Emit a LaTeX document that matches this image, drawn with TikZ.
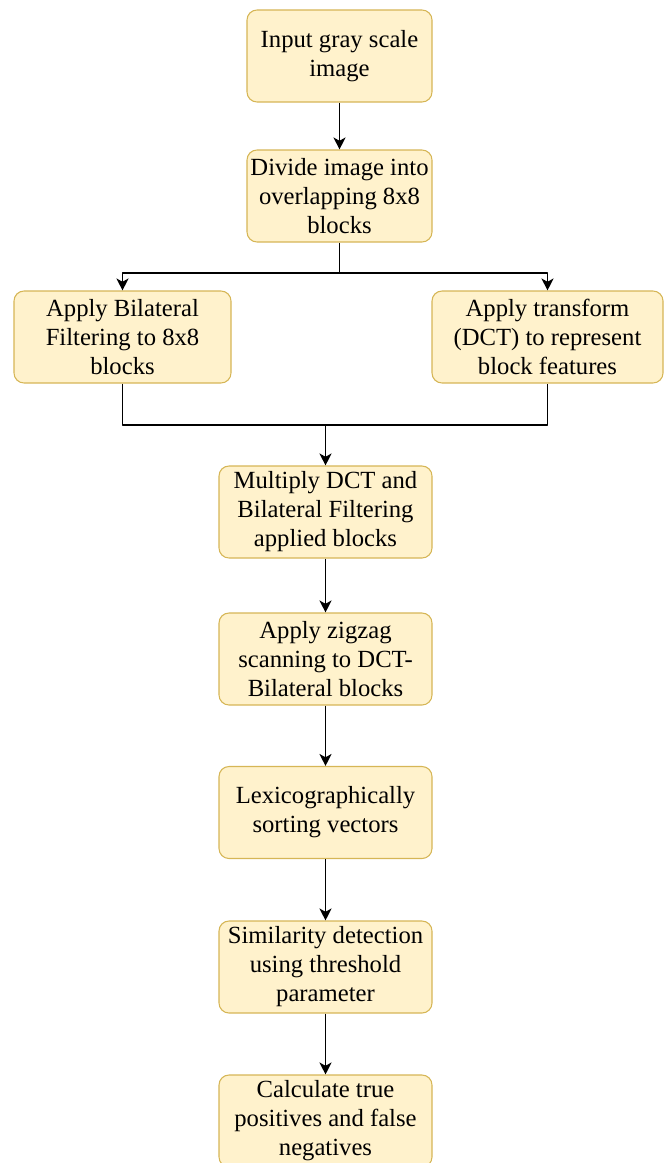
\documentclass[tikz,border=0pt]{standalone}
\usepackage{fontspec}
\setmainfont{Liberation Serif}
\usepackage{tikz}
\usetikzlibrary{arrows.meta}
\usetikzlibrary{calc}
\definecolor{boxfill}{HTML}{FFF2CC}
\definecolor{boxline}{HTML}{D6B656}
\tikzset{bx/.style={draw=boxline,fill=boxfill,line width=0.8pt,rounded corners=7.5pt,
  align=center,minimum height=69pt,inner sep=1pt,font=\fontsize{18.5}{21.75}\selectfont}}
\tikzset{ln/.style={line width=1.1pt,-{Stealth[length=9pt,width=9pt,inset=2.5pt]}}}

\begin{document}
\begin{tikzpicture}[x=0.75pt,y=-0.75pt,line join=round]
          \useasboundingbox (0,0) rectangle (664,1163);
          \node[bx,minimum width=138.75pt] (A) at (339.5,56) {Input gray scale\\image};
          \node[bx,minimum width=138.75pt] (B) at (339.5,196) {Divide image into\\overlapping 8x8\\blocks};
          \node[bx,minimum width=162.75pt] (C) at (122.5,337) {Apply Bilateral\\Filtering to 8x8\\blocks};
          \node[bx,minimum width=173.25pt] (D) at (547.5,337) {Apply transform\\(DCT) to represent\\block features};
          \node[bx,minimum width=159.75pt] (E) at (325.5,512) {Multiply DCT and\\Bilateral Filtering\\applied blocks};
          \node[bx,minimum width=159.75pt] (F) at (325.5,659) {Apply zigzag\\scanning to DCT-\\Bilateral blocks};
          \node[bx,minimum width=159.75pt] (G) at (325.5,812.5) {Lexicographically\\sorting vectors};
          \node[bx,minimum width=159.75pt] (H) at (325.5,967) {Similarity detection\\using threshold\\parameter};
          \node[bx,minimum width=159.75pt] (I) at (325.5,1121) {Calculate true\\positives and false\\negatives};
          \coordinate (split) at (339.5,273);
          \coordinate (merge) at (325.5,425);
          \draw[ln] (A) -- (B);
          \draw[line width=1.1pt] (B) -- (split);
          \draw[ln] (split) -| (C);
          \draw[ln] (split) -| (D);
          \draw[line width=1.1pt] (C) |- (merge) -| (D);
          \draw[ln] (merge) -- (E);
          \draw[ln] (E) -- (F);
          \draw[ln] (F) -- (G);
          \draw[ln] (G) -- (H);
          \draw[ln] (H) -- (I);
        \end{tikzpicture}
\end{document}
